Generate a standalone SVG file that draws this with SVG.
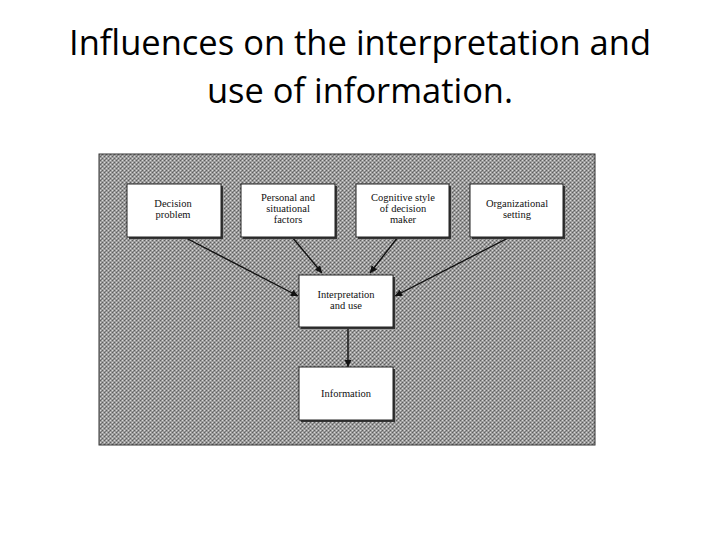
<svg xmlns="http://www.w3.org/2000/svg" width="720" height="540" viewBox="0 0 720 540">
<style>
.title{font-family:"Open Sans","Liberation Sans",sans-serif;font-size:34px;fill:#000;text-anchor:middle}
.box{fill:#fff;stroke:#222;stroke-width:1}
.shadow{fill:#333}
.lbl{font-family:"Liberation Serif","Times New Roman",serif;font-size:10.5px;fill:#111;text-anchor:middle}
.conn{stroke:#111;stroke-width:1.4;fill:none;marker-end:url(#ah)}
</style>
<defs>
<marker id="ah" viewBox="0 0 10 10" refX="10" refY="5" markerWidth="7" markerHeight="7" orient="auto" markerUnits="userSpaceOnUse">
<path d="M0,0 L10,5 L0,10 z" fill="#111"/>
</marker>
<pattern id="tex" width="4" height="4" patternUnits="userSpaceOnUse">
<rect width="4" height="4" fill="#9c9c9c"/>
<rect x="0" y="0" width="1" height="1" fill="#5e5e5e"/>
<rect x="2" y="2" width="1" height="1" fill="#5e5e5e"/>
<rect x="2" y="0" width="1" height="1" fill="#d6d6d6"/>
<rect x="0" y="2" width="1" height="1" fill="#d6d6d6"/>
<rect x="1" y="3" width="1" height="1" fill="#7a7a7a"/>
</pattern>
</defs>
<rect width="720" height="540" fill="#fff"/>
<text class="title" x="360" y="55" textLength="582" lengthAdjust="spacingAndGlyphs">Influences on the interpretation and</text>
<text class="title" x="360" y="103" textLength="306" lengthAdjust="spacingAndGlyphs">use of information.</text>
<rect x="99" y="154" width="496" height="291" fill="url(#tex)" stroke="#333" stroke-width="1"/>
<g id="connectors">
<line class="conn" x1="184" y1="237" x2="298" y2="296"/>
<line class="conn" x1="292" y1="237" x2="322" y2="273"/>
<line class="conn" x1="398" y1="237" x2="370" y2="273"/>
<line class="conn" x1="510" y1="237" x2="395" y2="296"/>
<line class="conn" x1="348" y1="327" x2="348" y2="367"/>
</g>
<g id="decision-problem">
<rect class="shadow" x="129" y="186" width="94" height="53"/>
<rect class="box" x="127" y="184" width="94" height="53"/>
<text class="lbl" x="173" y="207">Decision</text>
<text class="lbl" x="173" y="218">problem</text>
</g>
<g id="personal-situational">
<rect class="shadow" x="243" y="186" width="94" height="53"/>
<rect class="box" x="241" y="184" width="94" height="53"/>
<text class="lbl" x="288" y="201">Personal and</text>
<text class="lbl" x="288" y="212">situational</text>
<text class="lbl" x="288" y="223">factors</text>
</g>
<g id="cognitive-style">
<rect class="shadow" x="358" y="186" width="93" height="53"/>
<rect class="box" x="356" y="184" width="93" height="53"/>
<text class="lbl" x="403" y="201">Cognitive style</text>
<text class="lbl" x="403" y="212">of decision</text>
<text class="lbl" x="403" y="223">maker</text>
</g>
<g id="organizational-setting">
<rect class="shadow" x="472" y="186" width="93" height="53"/>
<rect class="box" x="470" y="184" width="93" height="53"/>
<text class="lbl" x="517" y="207">Organizational</text>
<text class="lbl" x="517" y="218">setting</text>
</g>
<g id="interpretation-use">
<rect class="shadow" x="301" y="277" width="94" height="52"/>
<rect class="box" x="299" y="275" width="94" height="52"/>
<text class="lbl" x="346" y="298">Interpretation</text>
<text class="lbl" x="346" y="309">and use</text>
</g>
<g id="information">
<rect class="shadow" x="301" y="369" width="94" height="53"/>
<rect class="box" x="299" y="367" width="94" height="53"/>
<text class="lbl" x="346" y="397">Information</text>
</g>
</svg>
